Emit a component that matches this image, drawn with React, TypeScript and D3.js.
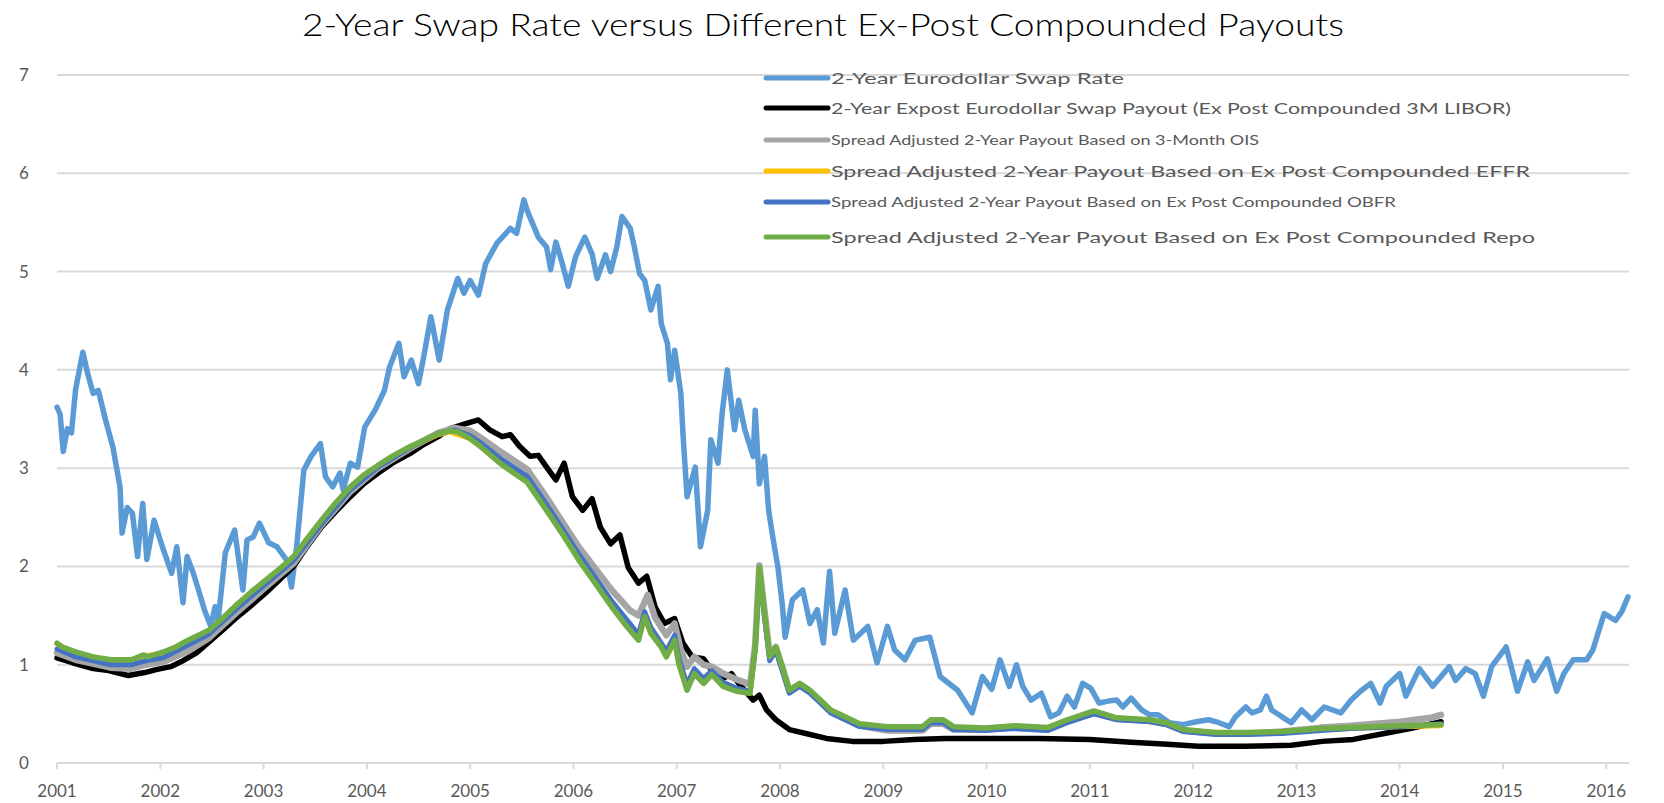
import React from "react";
import * as d3 from "d3";

const W = 1664;
const H = 803;

const titleText = "2-Year Swap Rate versus Different Ex-Post Compounded Payouts";
const yTicks = [0, 1, 2, 3, 4, 5, 6, 7];
const xTickYears = [2001, 2002, 2003, 2004, 2005, 2006, 2007, 2008, 2009, 2010, 2011, 2012, 2013, 2014, 2015, 2016];

const seriesNames = [
  "2-Year Eurodollar Swap Rate",
  "2-Year Expost Eurodollar Swap Payout (Ex Post Compounded 3M LIBOR)",
  "Spread Adjusted 2-Year Payout Based on 3-Month OIS",
  "Spread Adjusted 2-Year Payout Based on Ex Post Compounded EFFR",
  "Spread Adjusted 2-Year Payout Based on Ex Post Compounded OBFR",
  "Spread Adjusted 2-Year Payout Based on Ex Post Compounded Repo",
];
const seriesColors = ["#5B9BD5", "#000000", "#A5A5A5", "#FFC000", "#4472C4", "#70AD47"];

// [year, value]
const swapRate: [number, number][] = [
  [2001.0, 3.62], [2001.03, 3.55], [2001.06, 3.17], [2001.1, 3.4], [2001.14, 3.36], [2001.18, 3.8],
  [2001.25, 4.18], [2001.3, 3.95], [2001.35, 3.76], [2001.4, 3.79], [2001.47, 3.49], [2001.54, 3.22],
  [2001.61, 2.81], [2001.63, 2.34], [2001.68, 2.6], [2001.73, 2.54], [2001.78, 2.1], [2001.83, 2.64],
  [2001.87, 2.07], [2001.94, 2.47], [2002.02, 2.2], [2002.11, 1.93], [2002.16, 2.2], [2002.22, 1.63],
  [2002.26, 2.1], [2002.32, 1.93], [2002.37, 1.76], [2002.43, 1.55], [2002.49, 1.39], [2002.53, 1.59],
  [2002.56, 1.45], [2002.63, 2.14], [2002.72, 2.37], [2002.8, 1.76], [2002.84, 2.27], [2002.9, 2.3],
  [2002.96, 2.44], [2003.05, 2.24], [2003.13, 2.2], [2003.22, 2.07], [2003.27, 1.79], [2003.32, 2.2],
  [2003.39, 2.98], [2003.46, 3.12], [2003.55, 3.25], [2003.6, 2.91], [2003.67, 2.81], [2003.74, 2.95],
  [2003.77, 2.78], [2003.84, 3.05], [2003.91, 3.01], [2003.98, 3.42], [2004.08, 3.59], [2004.17, 3.79],
  [2004.22, 4.03], [2004.31, 4.27], [2004.36, 3.93], [2004.43, 4.1], [2004.5, 3.86], [2004.55, 4.13],
  [2004.62, 4.54], [2004.7, 4.1], [2004.78, 4.61], [2004.88, 4.93], [2004.94, 4.78], [2005.0, 4.91],
  [2005.08, 4.76], [2005.15, 5.08], [2005.26, 5.29], [2005.39, 5.44], [2005.45, 5.39], [2005.52, 5.73],
  [2005.56, 5.6], [2005.66, 5.35], [2005.74, 5.25], [2005.78, 5.02], [2005.83, 5.3], [2005.89, 5.09],
  [2005.95, 4.85], [2006.02, 5.15], [2006.11, 5.35], [2006.18, 5.18], [2006.23, 4.93], [2006.31, 5.17],
  [2006.36, 5.0], [2006.42, 5.25], [2006.47, 5.56], [2006.55, 5.44], [2006.59, 5.25], [2006.64, 4.98],
  [2006.69, 4.91], [2006.75, 4.61], [2006.82, 4.85], [2006.85, 4.47], [2006.91, 4.27], [2006.94, 3.9],
  [2006.98, 4.2], [2007.04, 3.76], [2007.06, 3.36], [2007.1, 2.71], [2007.18, 3.01], [2007.23, 2.2],
  [2007.3, 2.57], [2007.33, 3.29], [2007.4, 3.05], [2007.44, 3.56], [2007.49, 4.0], [2007.56, 3.39],
  [2007.6, 3.69], [2007.66, 3.39], [2007.74, 3.12], [2007.76, 3.59], [2007.8, 2.84], [2007.85, 3.12],
  [2007.89, 2.57], [2007.93, 2.3], [2007.98, 1.99], [2008.02, 1.63], [2008.05, 1.28], [2008.12, 1.66],
  [2008.22, 1.76], [2008.29, 1.42], [2008.36, 1.56], [2008.42, 1.22], [2008.48, 1.95], [2008.53, 1.32],
  [2008.63, 1.76], [2008.71, 1.25], [2008.85, 1.39], [2008.94, 1.02], [2009.04, 1.39], [2009.11, 1.15],
  [2009.21, 1.05], [2009.31, 1.25], [2009.45, 1.28], [2009.55, 0.88], [2009.72, 0.74], [2009.86, 0.51],
  [2009.96, 0.88], [2010.05, 0.75], [2010.13, 1.05], [2010.22, 0.78], [2010.29, 1.0], [2010.35, 0.78],
  [2010.43, 0.64], [2010.53, 0.71], [2010.62, 0.47], [2010.7, 0.51], [2010.78, 0.68], [2010.85, 0.57],
  [2010.93, 0.81], [2011.01, 0.76], [2011.09, 0.61], [2011.18, 0.63], [2011.26, 0.64], [2011.32, 0.57],
  [2011.4, 0.66], [2011.5, 0.54], [2011.58, 0.49], [2011.66, 0.49], [2011.77, 0.41], [2011.9, 0.39],
  [2012.03, 0.42], [2012.15, 0.44], [2012.25, 0.41], [2012.35, 0.37], [2012.41, 0.47], [2012.51, 0.57],
  [2012.57, 0.51], [2012.65, 0.54], [2012.71, 0.68], [2012.76, 0.54], [2012.86, 0.47], [2012.95, 0.41],
  [2013.05, 0.54], [2013.15, 0.44], [2013.27, 0.57], [2013.43, 0.51], [2013.53, 0.64], [2013.62, 0.73],
  [2013.72, 0.81], [2013.81, 0.61], [2013.87, 0.78], [2014.0, 0.91], [2014.06, 0.68], [2014.19, 0.96],
  [2014.32, 0.78], [2014.48, 0.98], [2014.54, 0.84], [2014.64, 0.96], [2014.73, 0.91], [2014.81, 0.68],
  [2014.89, 0.98], [2015.03, 1.18], [2015.08, 0.98], [2015.14, 0.73], [2015.24, 1.03], [2015.3, 0.84],
  [2015.43, 1.06], [2015.52, 0.73], [2015.59, 0.91], [2015.68, 1.05], [2015.81, 1.05], [2015.87, 1.15],
  [2015.92, 1.32], [2015.98, 1.52], [2016.09, 1.45], [2016.15, 1.54], [2016.21, 1.69],
];

const liborPayout: [number, number][] = [
  [2001.0, 1.07], [2001.15, 1.02], [2001.35, 0.96], [2001.5, 0.94], [2001.69, 0.89], [2001.85, 0.92],
  [2001.96, 0.95], [2002.1, 0.98], [2002.2, 1.03], [2002.35, 1.12], [2002.47, 1.23], [2002.6, 1.35],
  [2002.75, 1.49], [2002.9, 1.62], [2003.02, 1.73], [2003.15, 1.86], [2003.29, 2.0], [2003.42, 2.2],
  [2003.56, 2.4], [2003.7, 2.56], [2003.84, 2.71], [2003.97, 2.84], [2004.11, 2.95], [2004.26, 3.06],
  [2004.42, 3.15], [2004.55, 3.24], [2004.69, 3.32], [2004.8, 3.4], [2004.95, 3.45], [2005.08, 3.49],
  [2005.19, 3.39], [2005.31, 3.32], [2005.39, 3.34], [2005.48, 3.22], [2005.58, 3.12], [2005.66, 3.13],
  [2005.74, 3.01], [2005.83, 2.88], [2005.91, 3.05], [2005.99, 2.71], [2006.09, 2.57], [2006.18, 2.69],
  [2006.26, 2.4], [2006.36, 2.23], [2006.45, 2.32], [2006.53, 1.99], [2006.63, 1.83], [2006.71, 1.9],
  [2006.79, 1.59], [2006.88, 1.42], [2006.98, 1.47], [2007.06, 1.22], [2007.15, 1.08], [2007.26, 1.06],
  [2007.36, 0.91], [2007.45, 0.86], [2007.53, 0.91], [2007.6, 0.81], [2007.74, 0.64], [2007.8, 0.69],
  [2007.87, 0.54], [2007.96, 0.44], [2008.09, 0.34], [2008.25, 0.3], [2008.45, 0.25], [2008.7, 0.22],
  [2009.0, 0.22], [2009.3, 0.24], [2009.6, 0.25], [2010.0, 0.25], [2010.5, 0.25], [2011.0, 0.24],
  [2011.4, 0.21], [2011.75, 0.19], [2012.05, 0.17], [2012.5, 0.17], [2012.95, 0.18], [2013.25, 0.22],
  [2013.55, 0.24], [2013.85, 0.3], [2014.1, 0.35], [2014.4, 0.42],
];

const oisPayout: [number, number][] = [
  [2001.0, 1.12], [2001.18, 1.05], [2001.52, 0.97], [2001.72, 0.96], [2001.86, 1.0], [2002.03, 1.03],
  [2002.27, 1.14], [2002.47, 1.27], [2002.75, 1.54], [2003.02, 1.79], [2003.29, 2.03], [2003.56, 2.42],
  [2003.84, 2.76], [2004.11, 3.0], [2004.42, 3.2], [2004.69, 3.36], [2004.85, 3.41], [2005.0, 3.38],
  [2005.1, 3.31], [2005.29, 3.17], [2005.55, 2.99], [2005.74, 2.7], [2006.05, 2.2], [2006.37, 1.76],
  [2006.55, 1.55], [2006.63, 1.5], [2006.72, 1.71], [2006.79, 1.48], [2006.9, 1.3], [2006.98, 1.42],
  [2007.04, 1.15], [2007.1, 0.98], [2007.17, 1.08], [2007.26, 1.0], [2007.34, 0.98], [2007.45, 0.91],
  [2007.58, 0.85], [2007.71, 0.8], [2007.76, 1.2], [2007.8, 2.01], [2007.85, 1.55], [2007.9, 1.1],
  [2007.96, 1.18], [2008.03, 0.95], [2008.09, 0.74], [2008.19, 0.8], [2008.29, 0.73], [2008.39, 0.63],
  [2008.49, 0.53], [2008.63, 0.45], [2008.77, 0.38], [2009.04, 0.33], [2009.38, 0.33], [2009.46, 0.4],
  [2009.58, 0.4], [2009.68, 0.34], [2009.98, 0.34], [2010.27, 0.36], [2010.59, 0.34], [2010.78, 0.42],
  [2011.04, 0.51], [2011.26, 0.45], [2011.58, 0.43], [2011.74, 0.4], [2011.9, 0.33], [2012.22, 0.3],
  [2012.54, 0.3], [2012.86, 0.32], [2013.24, 0.36], [2013.53, 0.38], [2014.0, 0.42], [2014.3, 0.46],
  [2014.4, 0.49],
];

const effrPayout: [number, number][] = [
  [2001.0, 1.21], [2001.18, 1.12], [2001.52, 1.04], [2001.72, 1.04], [2001.84, 1.09], [2002.03, 1.12],
  [2002.27, 1.24], [2002.47, 1.34], [2002.75, 1.61], [2003.02, 1.85], [2003.29, 2.09], [2003.56, 2.46],
  [2003.84, 2.8], [2004.11, 3.02], [2004.42, 3.21], [2004.69, 3.34], [2004.8, 3.37], [2005.0, 3.3],
  [2005.1, 3.22], [2005.29, 3.05], [2005.55, 2.87], [2005.74, 2.58], [2006.05, 2.08], [2006.37, 1.6],
  [2006.63, 1.26], [2006.69, 1.49], [2006.75, 1.32], [2006.85, 1.18], [2006.9, 1.08], [2006.98, 1.24],
  [2007.02, 1.01], [2007.1, 0.75], [2007.17, 0.91], [2007.26, 0.81], [2007.34, 0.9], [2007.45, 0.78],
  [2007.58, 0.73], [2007.71, 0.71], [2007.76, 1.17], [2007.8, 1.98], [2007.85, 1.51], [2007.9, 1.07],
  [2007.96, 1.17], [2008.03, 0.94], [2008.09, 0.73], [2008.19, 0.8], [2008.29, 0.73], [2008.39, 0.63],
  [2008.49, 0.53], [2008.63, 0.46], [2008.77, 0.39], [2009.04, 0.36], [2009.38, 0.36], [2009.46, 0.43],
  [2009.58, 0.43], [2009.68, 0.36], [2009.98, 0.35], [2010.27, 0.37], [2010.59, 0.35], [2010.78, 0.43],
  [2011.04, 0.52], [2011.26, 0.45], [2011.58, 0.43], [2011.74, 0.4], [2011.9, 0.33], [2012.22, 0.3],
  [2012.54, 0.3], [2012.86, 0.31], [2013.24, 0.34], [2013.53, 0.35], [2014.0, 0.37], [2014.4, 0.38],
];

const obfrPayout: [number, number][] = [
  [2001.0, 1.16], [2001.18, 1.08], [2001.52, 1.0], [2001.72, 1.0], [2001.86, 1.04], [2002.03, 1.07],
  [2002.27, 1.2], [2002.47, 1.31], [2002.75, 1.58], [2003.02, 1.82], [2003.29, 2.06], [2003.56, 2.43],
  [2003.84, 2.78], [2004.11, 3.01], [2004.42, 3.21], [2004.69, 3.35], [2004.85, 3.39], [2005.0, 3.33],
  [2005.1, 3.26], [2005.29, 3.1], [2005.55, 2.92], [2005.74, 2.63], [2006.05, 2.13], [2006.37, 1.65],
  [2006.63, 1.31], [2006.69, 1.54], [2006.75, 1.38], [2006.9, 1.14], [2006.98, 1.3], [2007.02, 1.07],
  [2007.1, 0.8], [2007.17, 0.96], [2007.26, 0.86], [2007.34, 0.94], [2007.45, 0.82], [2007.58, 0.76],
  [2007.71, 0.73], [2007.76, 1.15], [2007.8, 1.95], [2007.85, 1.48], [2007.9, 1.04], [2007.96, 1.14],
  [2008.03, 0.91], [2008.09, 0.71], [2008.19, 0.78], [2008.29, 0.71], [2008.39, 0.61], [2008.49, 0.51],
  [2008.63, 0.44], [2008.77, 0.37], [2009.04, 0.34], [2009.38, 0.34], [2009.46, 0.41], [2009.58, 0.41],
  [2009.68, 0.34], [2009.98, 0.33], [2010.27, 0.35], [2010.59, 0.33], [2010.78, 0.41], [2011.04, 0.5],
  [2011.26, 0.44], [2011.58, 0.42], [2011.74, 0.39], [2011.9, 0.32], [2012.22, 0.29], [2012.54, 0.29],
  [2012.86, 0.3], [2013.24, 0.33], [2013.53, 0.35], [2014.0, 0.37], [2014.4, 0.4],
];

const repoPayout: [number, number][] = [
  [2001.0, 1.22], [2001.05, 1.18], [2001.18, 1.13], [2001.35, 1.08], [2001.52, 1.05], [2001.72, 1.05],
  [2001.84, 1.1], [2001.88, 1.08], [2002.03, 1.13], [2002.15, 1.18], [2002.27, 1.25], [2002.47, 1.35],
  [2002.6, 1.47], [2002.75, 1.62], [2002.88, 1.74], [2003.02, 1.86], [2003.15, 1.97], [2003.29, 2.1],
  [2003.42, 2.28], [2003.56, 2.47], [2003.7, 2.65], [2003.84, 2.81], [2003.97, 2.93], [2004.11, 3.03],
  [2004.26, 3.13], [2004.42, 3.22], [2004.56, 3.29], [2004.69, 3.35], [2004.8, 3.38], [2004.88, 3.37],
  [2005.0, 3.3], [2005.1, 3.22], [2005.29, 3.05], [2005.45, 2.93], [2005.55, 2.86], [2005.74, 2.57],
  [2005.9, 2.32], [2006.05, 2.07], [2006.21, 1.83], [2006.37, 1.59], [2006.5, 1.41], [2006.63, 1.25],
  [2006.69, 1.49], [2006.75, 1.32], [2006.85, 1.18], [2006.9, 1.08], [2006.98, 1.25], [2007.02, 1.01],
  [2007.1, 0.74], [2007.17, 0.91], [2007.26, 0.81], [2007.34, 0.9], [2007.45, 0.78], [2007.58, 0.73],
  [2007.71, 0.71], [2007.76, 1.18], [2007.8, 1.99], [2007.85, 1.52], [2007.9, 1.08], [2007.96, 1.18],
  [2008.03, 0.95], [2008.09, 0.74], [2008.19, 0.81], [2008.29, 0.74], [2008.39, 0.64], [2008.49, 0.54],
  [2008.63, 0.47], [2008.77, 0.4], [2009.04, 0.37], [2009.38, 0.37], [2009.46, 0.44], [2009.58, 0.44],
  [2009.68, 0.37], [2009.98, 0.355], [2010.27, 0.38], [2010.59, 0.36], [2010.78, 0.44], [2011.04, 0.53],
  [2011.26, 0.46], [2011.58, 0.44], [2011.74, 0.41], [2011.9, 0.34], [2012.22, 0.31], [2012.54, 0.31],
  [2012.86, 0.32], [2013.24, 0.35], [2013.53, 0.36], [2014.0, 0.38], [2014.4, 0.39],
];

const allSeries = [swapRate, liborPayout, oisPayout, effrPayout, obfrPayout, repoPayout];
const strokeWidths = [5.5, 5.5, 6.5, 5, 5, 5.5];

const legendRowY = [78, 108, 140, 171, 202, 237];
const legendFontSize = [16, 16, 13.5, 16, 13.5, 16];
const legendTextWidth = [293, 680, 428, 699, 565, 704];

export default function App() {
  const x = d3.scaleLinear().domain([2001, 2016.22]).range([57, 1629]);
  const y = d3.scaleLinear().domain([0, 7]).range([763, 75]);
  const line = d3
    .line<[number, number]>()
    .x((d) => x(d[0]))
    .y((d) => y(d[1]));

  const font = "Lato, 'Open Sans', sans-serif";

  return (
    <svg
      width={W}
      height={H}
      viewBox={`0 0 ${W} ${H}`}
      style={{ position: "absolute", left: 0, top: 0, background: "#fff" }}
    >
      <rect x={0} y={0} width={W} height={H} fill="#fff" />
      <text
        x={823}
        y={36}
        textAnchor="middle"
        fontFamily={font}
        fontWeight={300}
        fontSize={32}
        fill="#000"
        textLength={1042}
        lengthAdjust="spacingAndGlyphs"
      >
        {titleText}
      </text>

      {/* gridlines */}
      {yTicks.map((t) => (
        <line key={"g" + t} x1={x(2001)} x2={x(2016.22)} y1={y(t)} y2={y(t)} stroke="#D9D9D9" strokeWidth={2} />
      ))}
      {/* x ticks */}
      {xTickYears.map((yr) => (
        <line key={"t" + yr} x1={x(yr)} x2={x(yr)} y1={y(0)} y2={y(0) + 6} stroke="#D9D9D9" strokeWidth={2} />
      ))}
      {yTicks.map((t) => (
        <text
          key={"yl" + t}
          x={24}
          y={y(t) + 6}
          textAnchor="middle"
          fontFamily={font}
          fontSize={17}
          fill="#595959"
        >
          {t}
        </text>
      ))}
      {xTickYears.map((yr) => (
        <text
          key={"xl" + yr}
          x={x(yr)}
          y={797}
          textAnchor="middle"
          fontFamily={font}
          fontSize={17}
          fill="#595959"
        >
          {yr}
        </text>
      ))}

      {/* series */}
      {allSeries.map((s, i) => (
        <path
          key={"s" + i}
          d={line(s) || ""}
          fill="none"
          stroke={seriesColors[i]}
          strokeWidth={strokeWidths[i]}
          strokeLinejoin="round"
          strokeLinecap="round"
        />
      ))}

      {/* legend */}
      {seriesNames.map((name, i) => (
        <g key={"lg" + i}>
          <line
            x1={766}
            x2={828}
            y1={legendRowY[i]}
            y2={legendRowY[i]}
            stroke={seriesColors[i]}
            strokeWidth={5}
            strokeLinecap="round"
          />
          <text
            x={831}
            y={legendRowY[i] + legendFontSize[i] * 0.36}
            fontFamily={font}
            fontSize={legendFontSize[i]}
            fill="#595959"
            textLength={legendTextWidth[i]}
            lengthAdjust="spacingAndGlyphs"
          >
            {name}
          </text>
        </g>
      ))}
    </svg>
  );
}
